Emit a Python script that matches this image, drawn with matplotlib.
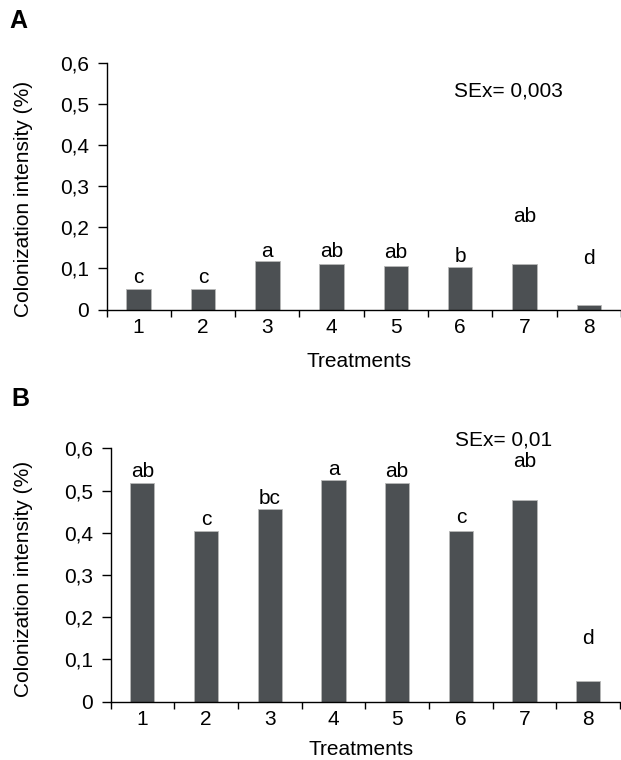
import matplotlib
matplotlib.use("Agg")
import matplotlib.pyplot as plt
import numpy as np

plt.rcParams['font.family'] = ['Liberation Sans', 'DejaVu Sans']

treatments = [1, 2, 3, 4, 5, 6, 7, 8]
yticks = [0, 0.1, 0.2, 0.3, 0.4, 0.5, 0.6]
ytick_labels = ["0", "0,1", "0,2", "0,3", "0,4", "0,5", "0,6"]

# Panel A
values_a = [0.051, 0.051, 0.118, 0.111, 0.107, 0.104, 0.111, 0.010]
letters_a = ["c", "c", "a", "ab", "ab", "b", "ab", "d"]
letter_y_a = [0.065, 0.065, 0.129, 0.129, 0.125, 0.116, 0.212, 0.111]
se_a = "SEx= 0,003"

# Panel B
values_b = [0.519, 0.404, 0.457, 0.524, 0.519, 0.404, 0.478, 0.050]
letters_b = ["ab", "c", "bc", "a", "ab", "c", "ab", "d"]
letter_y_b = [0.531, 0.418, 0.468, 0.537, 0.531, 0.422, 0.556, 0.137]
se_b = "SEx= 0,01"

BAR = "#4c5053"
FS = 15

fig = plt.figure(figsize=(6.21, 7.60), dpi=100)

def panel(rect, xmax, values, letters, letter_y, se_text, se_pos, ylab_coords, xlab_coords, tag, tag_pos):
    ax = fig.add_axes(rect)
    ax.bar(treatments, values, width=0.38, color=BAR, edgecolor="#b8b8b8", linewidth=0.6, zorder=2)
    for x, lab, ly in zip(treatments, letters, letter_y):
        ax.text(x, ly, lab, ha="center", va="baseline", fontsize=FS, clip_on=False)
    ax.text(se_pos[0], se_pos[1], se_text, ha="left", va="baseline", fontsize=FS, clip_on=False)
    ax.set_xlim(0.5, xmax)
    ax.set_ylim(0, 0.6)
    ax.set_yticks(yticks)
    ax.set_yticklabels(ytick_labels, fontsize=FS)
    ax.set_xticks(treatments)
    ax.set_xticklabels([str(t) for t in treatments], fontsize=FS)
    ax.set_xticks(np.arange(0.5, 9.0, 1.0), minor=True)
    ax.tick_params(axis="x", which="major", length=0, pad=6)
    ax.tick_params(axis="x", which="minor", length=5, width=1.0, direction="out")
    ax.tick_params(axis="y", which="major", length=6.5, width=1.0, direction="out", pad=6)
    for s in ["top", "right"]:
        ax.spines[s].set_visible(False)
    for s in ["left", "bottom"]:
        ax.spines[s].set_linewidth(1.0)
    ax.set_ylabel("Colonization intensity (%)", fontsize=FS, va="center")
    ax.yaxis.set_label_coords(*ylab_coords)
    ax.set_xlabel("Treatments", fontsize=FS, va="center")
    ax.xaxis.set_label_coords(*xlab_coords)
    fig.text(tag_pos[0], tag_pos[1], tag, fontsize=18, fontweight="bold", ha="left", va="center")
    return ax

panel([106.5/621, 1 - 309.5/760, 1 - 106.5/621, (309.5-63)/760], 0.5 + 514.5/64.8,
      values_a, letters_a, letter_y_a, se_a, (5.90, 0.518),
      (-0.162, 0.45), (0.4915, -0.209), "A", (9/621, 1 - 21/760))

panel([110.5/621, 1 - 701.7/760, 1 - 110.5/621, (701.7-448.3)/760], 0.5 + 510.5/63.7,
      values_b, letters_b, letter_y_b, se_b, (5.914, 0.606),
      (-0.171, 0.486), (0.4915, -0.19), "B", (11/621, 1 - 399/760))

fig.savefig("out.png", dpi=100)
